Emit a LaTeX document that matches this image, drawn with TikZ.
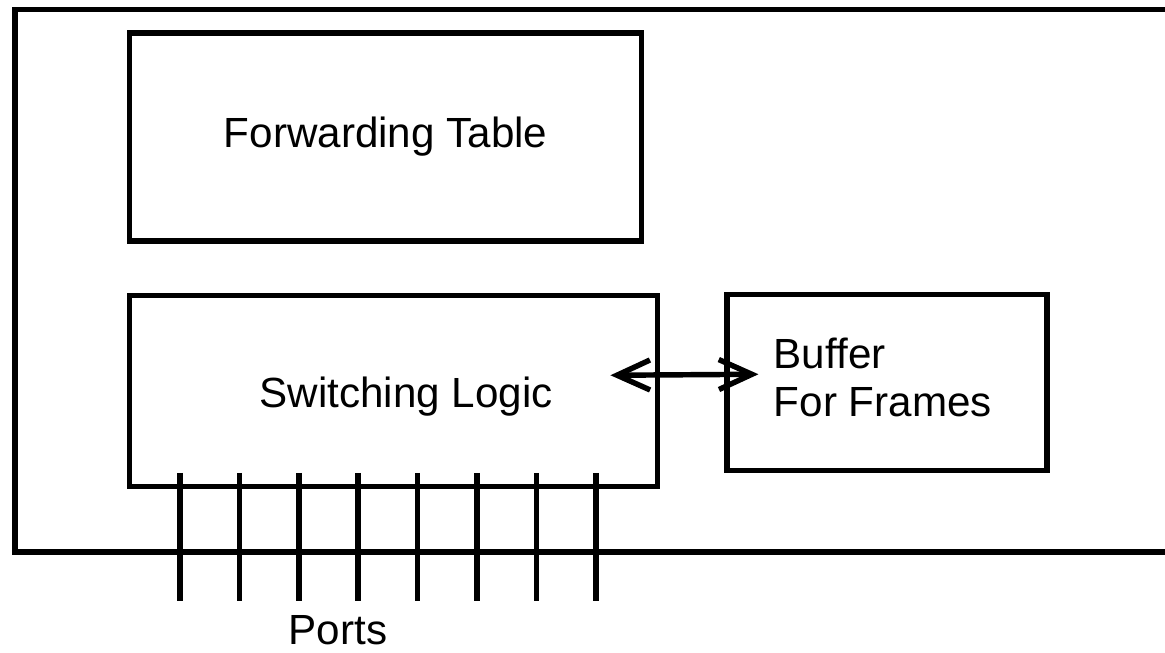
\documentclass[tikz,border=0pt]{standalone}
\usepackage{fontspec}
\setmainfont{Liberation Sans}
\usetikzlibrary{arrows.meta,positioning}
\tikzset{
  basebox/.style={rectangle,draw=black,line width=3.1pt,inner sep=0pt,align=center,font=\fontsize{24}{27}\selectfont},
  fwdnode/.style={basebox,minimum width=10.24cm,minimum height=4.16cm},
  swnode/.style={basebox,minimum width=10.56cm,minimum height=3.82cm},
  bufnode/.style={basebox,minimum width=6.4cm,minimum height=3.52cm},
  lbl/.style={inner sep=0pt,align=left,font=\fontsize{24}{27}\selectfont},
  frameline/.style={line width=3.1pt},
  portline/.style={line width=3.1pt},
  dblarr/.style={{Straight Barb[length=0.66cm,width=0.6cm]}-{Straight Barb[length=0.66cm,width=0.6cm]},line width=3.1pt}
}

\begin{document}
\begin{tikzpicture}
  \useasboundingbox (0,0) rectangle (23.3,13.06);

  %% switch housing
  \draw[frameline] (23.3,12.87) -| (0.3,2.02) -- (23.3,2.02);

  %% switching logic
  \node[swnode,anchor=south west] (switch) at (2.54,3.28) {};
  \node[lbl] (swtxt) at ([xshift=0.25cm,yshift=-0.12cm]switch.center) {Switching Logic};

  %% forwarding table
  \node[fwdnode,above=0.98cm of switch.north west,anchor=south west] (fwd) {Forwarding Table};

  %% frame buffer
  \node[bufnode,right=1.28cm of switch.north east,anchor=north west,yshift=0.02cm] (buffer) {};
  \node[lbl,anchor=west] (buftxt) at ([xshift=0.98cm,yshift=0.1cm]buffer.west) {Buffer\\For Frames};

  \draw[dblarr] ([xshift=-1.0cm,yshift=0.31cm]switch.east) -- ([xshift=0.68cm,yshift=0.16cm]buffer.west);

  %% ports
  \foreach \i in {0,...,7}{
    \coordinate (port\i) at ([xshift={1.06cm+\i*1.188cm},yshift=0.32cm]switch.south west);
    \draw[portline] (port\i) -- ++(0,-2.56);
  }
  \node[lbl,anchor=base] (ports) at ([xshift=4.22cm,yshift=-3.12cm]switch.south west) {Ports};
\end{tikzpicture}
\end{document}
